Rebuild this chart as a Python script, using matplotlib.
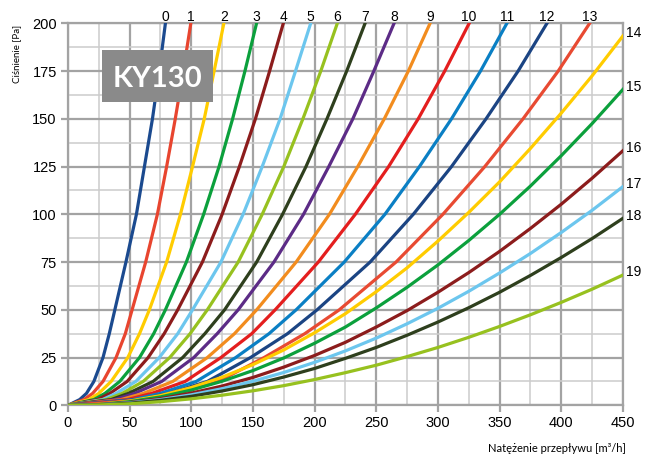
import matplotlib
matplotlib.use("Agg")
import matplotlib.pyplot as plt
from matplotlib.patches import Rectangle
from matplotlib.ticker import MultipleLocator

# curves 0-13: flow [m3/h] read at given pressure levels [Pa]
p_levels = [0, 3, 6.25, 12.5, 25, 37.5, 50, 75, 100, 125, 150, 175, 200]
flows_steep = [
    [0, 9.5, 15, 21, 28.4, 33.5, 38, 47, 55.5, 62, 68.5, 74, 79],
    [0, 13, 20, 28.4, 39, 46.5, 52, 63, 72.5, 80, 87, 93.5, 99.6],
    [0, 17, 25, 35, 48.5, 58, 66, 80, 91.2, 101, 110.5, 118.5, 126.4],
    [0, 21, 30, 42, 58, 69.5, 79, 96, 110, 122.5, 133.5, 143.5, 152.9],
    [0, 24, 34, 48, 65, 78, 89, 109, 125, 139, 152, 163.5, 174.6],
    [0, 28, 39, 55, 74, 89, 101, 124, 142, 157.5, 172, 184.5, 196.8],
    [0, 31, 44, 61, 82.5, 99, 113, 138, 157.5, 175, 190.5, 205, 218.4],
    [0, 35, 49, 69, 93, 111, 127, 153, 174, 193, 210, 226, 240.9],
    [0, 38, 54, 76, 102, 121, 138, 167, 191, 211.5, 231, 248, 264.4],
    [0, 43, 61, 85, 113, 135, 153, 185, 212, 235, 256.5, 276, 293.6],
    [0, 48, 68, 95, 124, 149, 168, 203, 233, 260, 284, 305.5, 325.3],
    [0, 53, 75, 104, 136, 163, 185, 224, 257, 285, 311, 334.5, 355.9],
    [0, 58, 82, 113, 148, 178, 202, 245, 280, 311, 339, 365, 388.4],
    [0, 63, 89, 122, 159, 192, 220, 266, 304, 338, 369, 397.5, 423],
]

# curves 14-19: pressure [Pa] read at given flows [m3/h]
q_levels = [0, 25, 50, 75, 100, 125, 150, 175, 200, 225, 250, 275, 300, 325, 350, 375, 400, 425, 450]
press_flat = [
    [0, 0.5, 2.2, 5.1, 9.3, 14.7, 21.3, 29, 38, 48, 59.5, 72, 86, 101, 117, 134.5, 153, 172.5, 193.4],
    [0, 0.4, 1.9, 4.4, 8, 12.6, 18.2, 24.8, 32.5, 41, 51, 61.8, 73.5, 86.3, 100, 114.8, 130.7, 147.5, 165.4],
    [0, 0.35, 1.5, 3.5, 6.4, 10.1, 14.6, 20, 26.1, 33, 41, 49.6, 59.2, 69.5, 80.6, 92.6, 105.3, 118.9, 133.3],
    [0, 0.3, 1.3, 3.0, 5.5, 8.7, 12.6, 17.2, 22.5, 28.5, 35.2, 42.7, 50.8, 59.7, 69.3, 79.5, 90.5, 102.1, 114.5],
    [0, 0.25, 1.1, 2.6, 4.7, 7.5, 10.8, 14.8, 19.3, 24.6, 30.3, 36.7, 43.6, 51.1, 59.2, 68, 77.4, 87.3, 97.9],
    [0, 0.2, 0.8, 1.9, 3.4, 5.3, 7.6, 10.3, 13.5, 17.1, 21, 25.5, 30.3, 35.6, 41.3, 47.4, 53.9, 60.8, 68.2],
]

colors = ['#1b4a8f', '#e8452f', '#ffcc00', '#0ba03c', '#8c1c1c', '#6cc6ee', '#97c11f',
          '#2e3f1d', '#5c2b86', '#f28c1e', '#e41e1e', '#0a7fc4', '#1b4483', '#e84a32',
          '#ffcc00', '#0ba03c', '#8c1c1c', '#6cc6ee', '#2e3f1d', '#97c11f']

fig = plt.figure(figsize=(6.53, 4.62), dpi=100)
ax = fig.add_axes([0.1041, 0.1227, 0.8499, 0.8269])

for i, fl in enumerate(flows_steep):
    ax.plot(fl, p_levels, color=colors[i], lw=2.3, solid_joinstyle='round', zorder=3)
    ax.annotate(str(i), (fl[-1], 200), xytext=(0, 2), textcoords='offset points',
                ha='center', va='baseline', fontsize=10, family='Liberation Sans',
                annotation_clip=False)

for j, pr in enumerate(press_flat):
    n = j + 14
    ax.plot(q_levels, pr, color=colors[n], lw=2.3, solid_joinstyle='round', zorder=3)
    ax.annotate(str(n), (450, pr[-1]), xytext=(2, -1), textcoords='offset points',
                ha='left', va='baseline', fontsize=10, family='Liberation Sans',
                annotation_clip=False)

ax.set_xlim(0, 450)
ax.set_ylim(0, 200)
ax.xaxis.set_major_locator(MultipleLocator(50))
ax.xaxis.set_minor_locator(MultipleLocator(25))
ax.yaxis.set_major_locator(MultipleLocator(25))
ax.yaxis.set_minor_locator(MultipleLocator(12.5))
ax.grid(which='major', color='#a3a3a3', lw=1.6, zorder=0)
ax.grid(which='minor', color='#cccccc', lw=1.1, zorder=0)
ax.set_axisbelow(True)
for s in ax.spines.values():
    s.set_color('#a3a3a3')
    s.set_linewidth(1.6)
ax.tick_params(which='major', length=5, width=1.6, color='#a3a3a3', labelsize=10.5, pad=3)
ax.tick_params(which='minor', length=0)
for lab in ax.get_xticklabels() + ax.get_yticklabels():
    lab.set_family('Liberation Sans')

fig.text(0.0256, 0.883, 'Ciśnienie [Pa]', rotation=90, ha='center', va='center',
         fontsize=7, family='Lato')
fig.text(0.9587, 0.0216, 'Natężenie przepływu [m³/h]', ha='right', va='baseline',
         fontsize=8, family='Lato')

ax.add_patch(Rectangle((0.0608, 0.794), 0.2001, 0.136, transform=ax.transAxes,
                       fc='#8a8a8a', ec='none', zorder=5))
ax.text(0.1608, 0.862, 'KY130', transform=ax.transAxes, ha='center', va='center_baseline',
        fontsize=21, fontweight='bold', family='Lato', color='white', zorder=6)

fig.savefig('out.png', dpi=100)
